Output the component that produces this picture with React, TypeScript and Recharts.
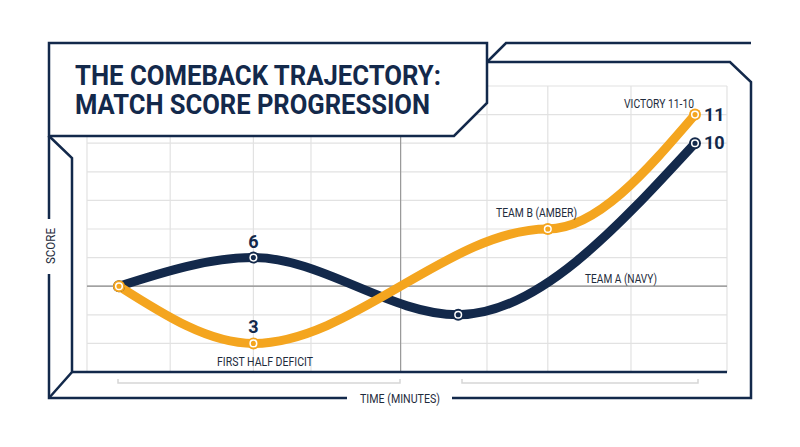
import React from 'react';
import { LineChart, Line, XAxis, YAxis, CartesianGrid, ReferenceLine, LabelList } from 'recharts';

// minutes of play and running score for each team
const navyMinutes = [0, 21, 53, 90];
const navyScores = [5, 6, 4, 10];
const amberMinutes = [0, 21, 67, 90];
const amberScores = [5, 3, 7, 11];

// grid lines
const minuteTicks = [-5, 8, 21, 30, 44, 57.5, 67, 80, 95];
const scoreTicks = [3, 4, 5, 6, 7, 8, 9, 10, 11];

const NAVY = '#13294b';
const AMBER = '#f4a51f';
const INK = '#1e2b3c';
const FONT = "Roboto, 'Liberation Sans', sans-serif";

const navyData = navyMinutes.map((m, i) => ({ minute: m, score: navyScores[i] }));
const amberData = amberMinutes.map((m, i) => ({ minute: m, score: amberScores[i] }));

// smooth curve that levels off at every inner point (like the drawing's S shapes)
const flatKnotCurve = (context: any) => {
  let pts: number[][] = [];
  return {
    areaStart() {},
    areaEnd() {},
    lineStart() {
      pts = [];
    },
    point(x: number, y: number) {
      pts.push([+x, +y]);
    },
    lineEnd() {
      const n = pts.length;
      if (!n) return;
      context.moveTo(pts[0][0], pts[0][1]);
      if (n < 3) {
        if (n === 2) context.lineTo(pts[1][0], pts[1][1]);
        return;
      }
      const m = pts.map(() => 0);
      m[0] = (1.5 * (pts[1][1] - pts[0][1])) / (pts[1][0] - pts[0][0]);
      m[n - 1] = (1.5 * (pts[n - 1][1] - pts[n - 2][1])) / (pts[n - 1][0] - pts[n - 2][0]);
      for (let i = 0; i < n - 1; i++) {
        const [x0, y0] = pts[i];
        const [x1, y1] = pts[i + 1];
        const d = (x1 - x0) / 3;
        context.bezierCurveTo(x0 + d, y0 + m[i] * d, x1 - d, y1 - m[i + 1] * d, x1, y1);
      }
    },
  };
};

const makeDot = (color: string) => (props: any) => {
  const { cx, cy, index } = props;
  return (
    <g key={`dot-${color}-${index}`}>
      <circle cx={cx} cy={cy} r={6} fill={color} />
      <circle cx={cx} cy={cy} r={3.3} fill="none" stroke="#fff" strokeWidth={1.5} />
    </g>
  );
};

const makeLabel = (last: number) => (props: any) => {
  const { x, y, value, index } = props;
  if (index === 1) {
    return (
      <text x={x} y={y - 10} textAnchor="middle" fontFamily={FONT} fontWeight="bold" fontSize={18} fill={NAVY}>
        {value}
      </text>
    );
  }
  if (index === last) {
    return (
      <text x={x + 9} y={y + 6} textAnchor="start" fontFamily={FONT} fontWeight="bold" fontSize={18} fill={NAVY}>
        {value}
      </text>
    );
  }
  return null;
};

const Frame = () => {
  const s = { stroke: NAVY, strokeWidth: 2.5, fill: 'none' };
  const note = { fontFamily: FONT, fontSize: 13, fill: INK };
  return (
    <svg width={800} height={447} style={{ position: 'absolute', left: 0, top: 0, pointerEvents: 'none' }}>
      {/* brackets under the plot */}
      <path d="M118,379 L118,383 L400,383 L400,379" stroke="#d6d6d6" strokeWidth={1.5} fill="none" />
      <path d="M462,379 L462,383 L698,383 L698,379" stroke="#d6d6d6" strokeWidth={1.5} fill="none" />

      {/* frame */}
      <path d="M72,372 L727,372" {...s} />
      <path d="M49,136 L72,158 L72,372 L49,398" {...s} />
      <path d="M49,136 L49,219 M49,274 L49,398 L347,398 M452,398 L751,398 L751,82 L730,62 L487,62" {...s} />
      <path d="M487,62 L506,43 L751,43" {...s} />
      <path d="M49,43 L487,43 L487,103 L454,136 L49,136 Z" stroke={NAVY} strokeWidth={2.5} fill="#fff" />

      <text x={75} y={85} fontFamily={FONT} fontWeight="bold" fontSize={27} fill={NAVY} textLength={366} lengthAdjust="spacingAndGlyphs">
        THE COMEBACK TRAJECTORY:
      </text>
      <text x={75} y={114} fontFamily={FONT} fontWeight="bold" fontSize={27} fill={NAVY} textLength={355} lengthAdjust="spacingAndGlyphs">
        MATCH SCORE PROGRESSION
      </text>

      <text x={360} y={403} {...note} fontSize={13.5} textLength={80} lengthAdjust="spacingAndGlyphs">TIME (MINUTES)</text>
      <text x={0} y={0} {...note} transform="translate(55,264) rotate(-90)" textLength={36} lengthAdjust="spacingAndGlyphs">SCORE</text>

      <text x={217} y={366} {...note} textLength={96} lengthAdjust="spacingAndGlyphs">FIRST HALF DEFICIT</text>
      <text x={496} y={217} {...note} textLength={81} lengthAdjust="spacingAndGlyphs">TEAM B (AMBER)</text>
      <text x={585} y={283} {...note} textLength={72} lengthAdjust="spacingAndGlyphs">TEAM A (NAVY)</text>
      <text x={694} y={108} {...note} textAnchor="end" textLength={70} lengthAdjust="spacingAndGlyphs">VICTORY 11-10</text>
    </svg>
  );
};

export default function App() {
  return (
    <div style={{ position: 'absolute', left: 0, top: 0, width: 800, height: 447, background: '#fff' }}>
      <LineChart width={800} height={447} margin={{ top: 86, right: 73, bottom: 75, left: 87 }}>
        <CartesianGrid stroke="#e2e2e2" strokeWidth={1.2} />
        <XAxis type="number" dataKey="minute" domain={[-5, 95]} ticks={minuteTicks} allowDataOverflow hide />
        <YAxis type="number" dataKey="score" domain={[2, 12]} ticks={scoreTicks} allowDataOverflow hide />
        <ReferenceLine y={5} stroke="#8a8a8a" strokeWidth={1.2} />
        <ReferenceLine x={44} stroke="#9a9a9a" strokeWidth={1.2} />
        <Line
          data={navyData}
          dataKey="score"
          type={flatKnotCurve as any}
          stroke={NAVY}
          strokeWidth={9}
          strokeLinecap="round"
          dot={makeDot(NAVY)}
          activeDot={false}
          isAnimationActive={false}
        >
          <LabelList dataKey="score" content={makeLabel(3)} />
        </Line>
        <Line
          data={amberData}
          dataKey="score"
          type={flatKnotCurve as any}
          stroke={AMBER}
          strokeWidth={9}
          strokeLinecap="round"
          dot={makeDot(AMBER)}
          activeDot={false}
          isAnimationActive={false}
        >
          <LabelList dataKey="score" content={makeLabel(3)} />
        </Line>
      </LineChart>
      <Frame />
    </div>
  );
}
